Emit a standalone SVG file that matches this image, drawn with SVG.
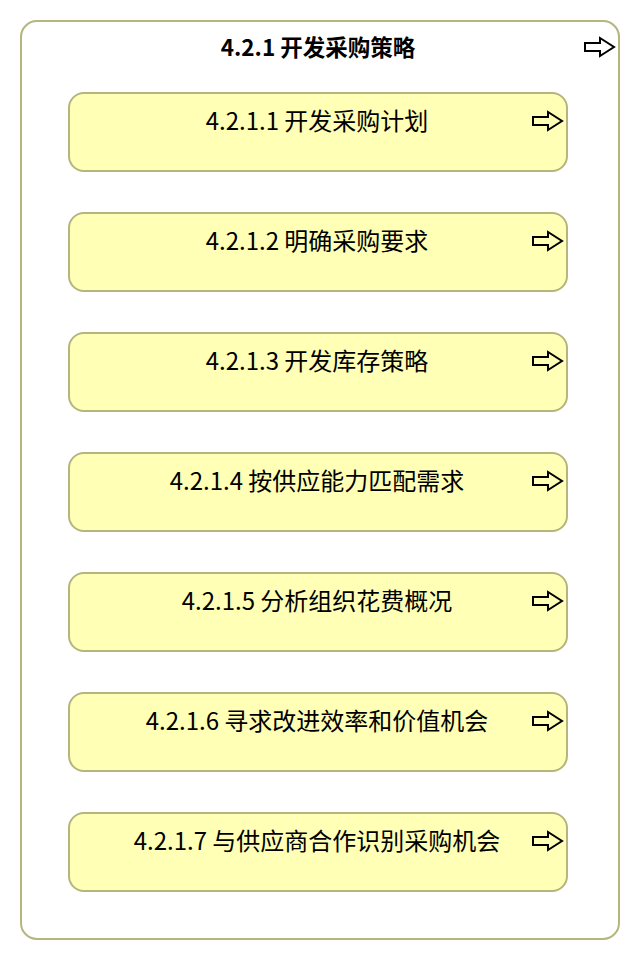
<svg xmlns="http://www.w3.org/2000/svg" width="640" height="960" viewBox="0 0 640 960">
<style>
.outer{fill:#ffffff;stroke:#b5b57d;stroke-width:2}
.box{fill:#ffffb5;stroke:#b5b57d;stroke-width:2}
.t{font-family:"Noto Sans CJK SC","Noto Sans",sans-serif;font-size:24px;fill:#000;text-anchor:middle}
.tb{font-weight:bold;font-size:22.5px}
.ic{fill:none;stroke:#000;stroke-width:2;stroke-linejoin:miter}
</style>
<defs>
<path id="arr" d="M0,-4 H15 V-9 L29,0 L15,9 V4 H0 Z"/>
</defs>
<g id="node-421">
<rect class="outer" x="21" y="21" width="598" height="918" rx="16"/>
<text class="t tb" x="318" y="56">4.2.1 开发采购策略</text>
<use href="#arr" class="ic" x="585" y="47"/>
</g>
<g id="node-4211">
<rect class="box" x="69" y="93" width="498" height="78" rx="15"/>
<text class="t" x="317" y="130">4.2.1.1 开发采购计划</text>
<use href="#arr" class="ic" x="533" y="121"/>
</g>
<g id="node-4212">
<rect class="box" x="69" y="213" width="498" height="78" rx="15"/>
<text class="t" x="317" y="250">4.2.1.2 明确采购要求</text>
<use href="#arr" class="ic" x="533" y="241"/>
</g>
<g id="node-4213">
<rect class="box" x="69" y="333" width="498" height="78" rx="15"/>
<text class="t" x="317" y="370">4.2.1.3 开发库存策略</text>
<use href="#arr" class="ic" x="533" y="361"/>
</g>
<g id="node-4214">
<rect class="box" x="69" y="453" width="498" height="78" rx="15"/>
<text class="t" x="317" y="490">4.2.1.4 按供应能力匹配需求</text>
<use href="#arr" class="ic" x="533" y="481"/>
</g>
<g id="node-4215">
<rect class="box" x="69" y="573" width="498" height="78" rx="15"/>
<text class="t" x="317" y="610">4.2.1.5 分析组织花费概况</text>
<use href="#arr" class="ic" x="533" y="601"/>
</g>
<g id="node-4216">
<rect class="box" x="69" y="693" width="498" height="78" rx="15"/>
<text class="t" x="317" y="730">4.2.1.6 寻求改进效率和价值机会</text>
<use href="#arr" class="ic" x="533" y="721"/>
</g>
<g id="node-4217">
<rect class="box" x="69" y="813" width="498" height="78" rx="15"/>
<text class="t" x="317" y="850">4.2.1.7 与供应商合作识别采购机会</text>
<use href="#arr" class="ic" x="533" y="841"/>
</g>
<g id="connectors"></g>
</svg>
